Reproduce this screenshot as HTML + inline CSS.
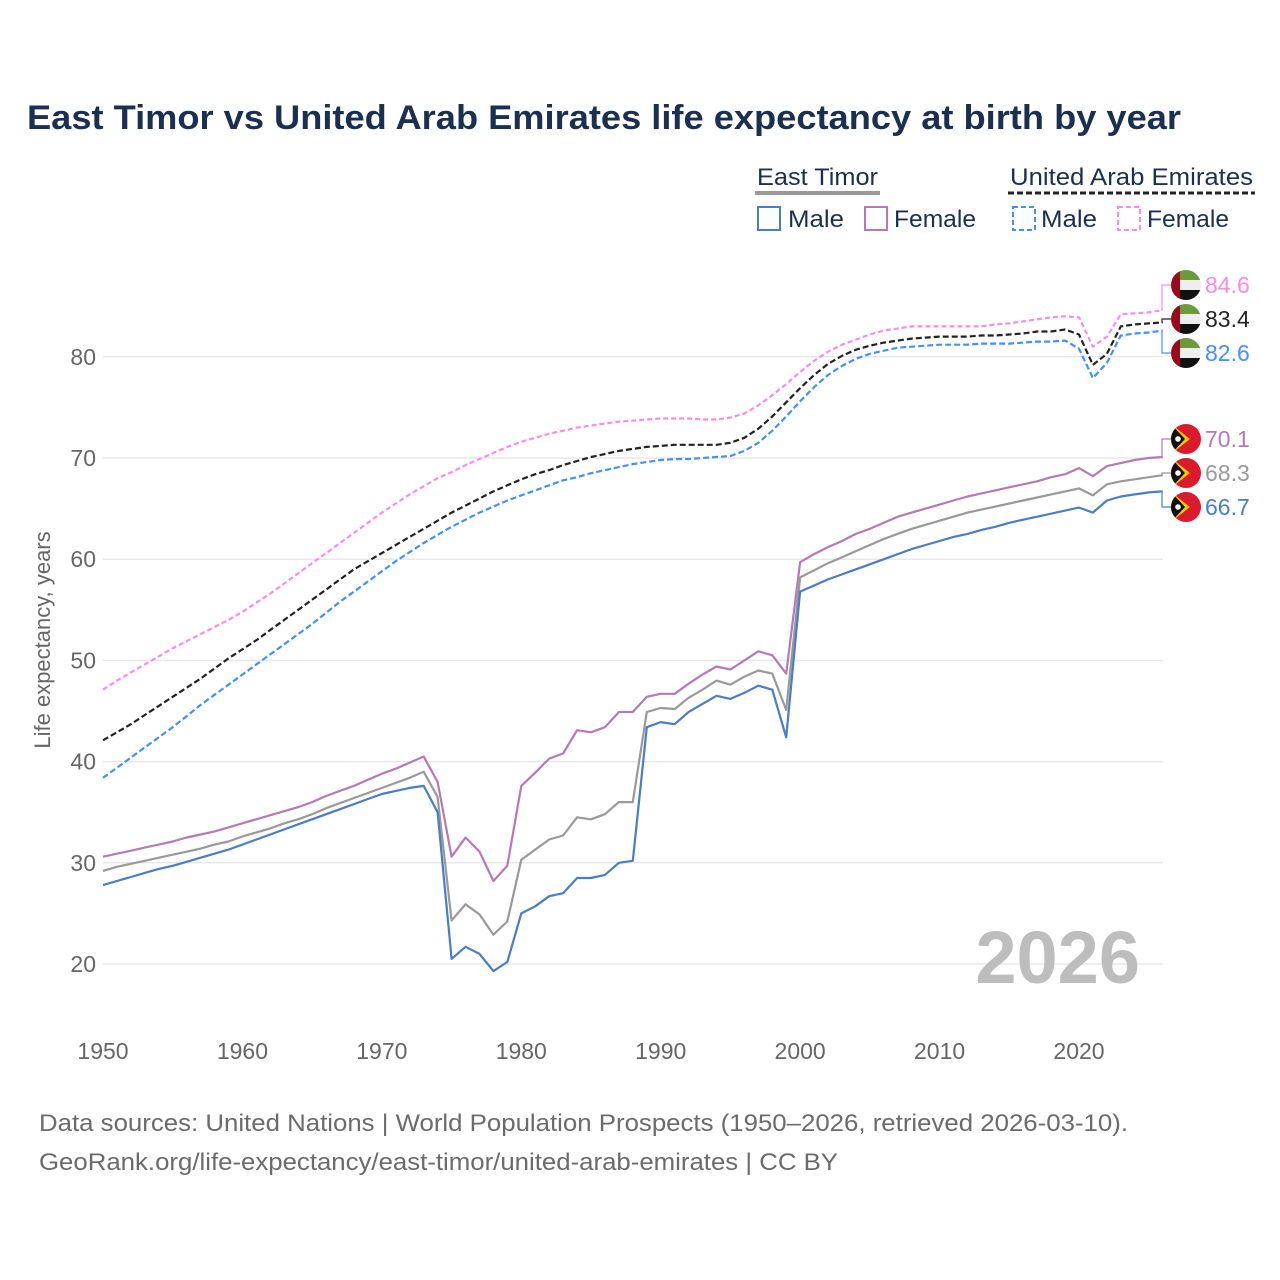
<!DOCTYPE html>
<html><head><meta charset="utf-8"><style>
body{margin:0;background:#fff}
svg{display:block;font-family:"Liberation Sans",sans-serif}
</style></head><body>
<svg id="chart" width="1280" height="1280" viewBox="0 0 1280 1280">
<text x="27" y="129" font-size="34" font-weight="bold" fill="#1b3050" textLength="1154" lengthAdjust="spacingAndGlyphs">East Timor vs United Arab Emirates life expectancy at birth by year</text>
<g font-size="24" fill="#1b3050">
<text x="757" y="185" textLength="121" lengthAdjust="spacingAndGlyphs">East Timor</text>
<line x1="755" y1="193" x2="880" y2="193" stroke="#999" stroke-width="4"/>
<text x="1010" y="185" textLength="243" lengthAdjust="spacingAndGlyphs">United Arab Emirates</text>
<line x1="1008" y1="193" x2="1255" y2="193" stroke="#222" stroke-width="3" stroke-dasharray="6,3"/>
<g><rect x="758" y="207" width="22" height="23" fill="none" stroke="#4a7cc9" stroke-width="2"/><text x="788" y="227" textLength="56" lengthAdjust="spacingAndGlyphs">Male</text></g>
<g><rect x="865" y="207" width="22" height="23" fill="none" stroke="#b57ab5" stroke-width="2"/><text x="894" y="227" textLength="82" lengthAdjust="spacingAndGlyphs">Female</text></g>
<g><rect x="1013" y="207" width="22" height="23" fill="none" stroke="#4190ff" stroke-width="2" stroke-dasharray="5,3"/><text x="1041" y="227" textLength="56" lengthAdjust="spacingAndGlyphs">Male</text></g>
<g><rect x="1118" y="207" width="22" height="23" fill="none" stroke="#ff88ee" stroke-width="2" stroke-dasharray="5,3"/><text x="1147" y="227" textLength="82" lengthAdjust="spacingAndGlyphs">Female</text></g>
</g>
<g id="grid"></g>
<g id="axes"></g>
<text x="1140" y="983" font-size="74" font-weight="bold" fill="#bdbdbd" text-anchor="end">2026</text>
<g id="series"></g>
<g id="labels"></g>
<text transform="translate(50,640) rotate(-90)" font-size="22" fill="#666" text-anchor="middle">Life expectancy, years</text>
<text x="39" y="1131" font-size="24" fill="#6b6b6b" textLength="1089" lengthAdjust="spacingAndGlyphs">Data sources: United Nations | World Population Prospects (1950–2026, retrieved 2026-03-10).</text>
<text x="39" y="1170" font-size="24" fill="#6b6b6b" textLength="799" lengthAdjust="spacingAndGlyphs">GeoRank.org/life-expectancy/east-timor/united-arab-emirates | CC BY</text>
</svg>
<script>
const startYear = 1950;
const yTicks = [20,30,40,50,60,70,80];
const xTicks = [1950,1960,1970,1980,1990,2000,2010,2020];
const etMale = [27.8,28.2,28.6,29.0,29.4,29.7,30.1,30.5,30.9,31.3,31.8,32.3,32.8,33.3,33.8,34.3,34.8,35.3,35.8,36.3,36.8,37.1,37.4,37.6,
35.0,20.5,21.7,21.0,19.3,20.2,25.0,25.7,26.7,27.0,28.5,28.5,28.8,30.0,30.2,43.4,43.9,43.7,44.9,45.7,46.5,46.2,46.8,47.5,47.1,42.4,
56.8,57.4,58.0,58.5,59.0,59.5,60.0,60.5,61.0,61.4,61.8,62.2,62.5,62.9,63.2,63.6,63.9,64.2,64.5,64.8,65.1,64.6,65.8,66.2,66.4,66.6,66.7];
const etFemale = [30.6,30.9,31.2,31.5,31.8,32.1,32.5,32.8,33.1,33.5,33.9,34.3,34.7,35.1,35.5,36.0,36.6,37.1,37.6,38.2,38.8,39.3,39.9,40.5,
38.0,30.6,32.5,31.1,28.2,29.7,37.6,38.9,40.3,40.8,43.1,42.9,43.4,44.9,44.9,46.4,46.7,46.7,47.7,48.6,49.4,49.1,50.0,50.9,50.5,48.7,
59.7,60.5,61.2,61.8,62.5,63.0,63.6,64.2,64.6,65.0,65.4,65.8,66.2,66.5,66.8,67.1,67.4,67.7,68.1,68.4,69.0,68.2,69.2,69.5,69.8,70.0,70.1];
const etTotal = [29.2,29.6,29.9,30.2,30.5,30.8,31.1,31.4,31.8,32.1,32.6,33.0,33.4,33.9,34.3,34.8,35.4,35.9,36.4,36.9,37.4,37.9,38.4,39.0,
36.5,24.3,25.9,24.9,22.9,24.2,30.3,31.3,32.3,32.7,34.5,34.3,34.8,36.0,36.0,44.9,45.3,45.2,46.3,47.1,48.0,47.6,48.4,49.0,48.7,45.1,
58.2,58.9,59.6,60.2,60.8,61.4,62.0,62.5,63.0,63.4,63.8,64.2,64.6,64.9,65.2,65.5,65.8,66.1,66.4,66.7,67.0,66.3,67.4,67.7,67.9,68.1,68.3];
const uaeFemale = [47.1,48.0,48.8,49.6,50.4,51.2,51.9,52.6,53.3,54.0,54.8,
55.7,56.6,57.6,58.6,59.6,60.6,61.6,62.6,63.6,64.6,
65.5,66.4,67.2,68.0,68.6,69.3,69.9,70.5,71.1,71.6,
72.0,72.4,72.7,73.0,73.2,73.4,73.6,73.7,73.8,73.9,
73.9,73.9,73.8,73.8,74.0,74.4,75.2,76.2,77.3,78.5,
79.6,80.5,81.2,81.7,82.2,82.6,82.8,83.0,83.0,83.0,
83.0,83.0,83.0,83.2,83.3,83.5,83.7,83.9,84.0,83.9,
81.0,82.0,84.2,84.3,84.4,84.6];
const uaeTotal = [42.1,42.9,43.7,44.6,45.5,46.4,47.3,48.2,49.2,50.2,51.1,
52.0,53.0,54.0,55.0,56.0,57.0,58.0,59.0,59.8,60.6,
61.4,62.2,63.0,63.8,64.6,65.3,66.0,66.7,67.3,67.9,
68.4,68.8,69.3,69.7,70.1,70.4,70.7,70.9,71.1,71.2,
71.3,71.3,71.3,71.3,71.5,72.0,72.9,74.1,75.5,76.9,
78.2,79.3,80.1,80.7,81.1,81.4,81.6,81.8,81.9,82.0,
82.0,82.0,82.1,82.1,82.2,82.3,82.5,82.5,82.7,82.2,
79.2,80.3,83.0,83.2,83.3,83.4];
const uaeMale = [38.4,39.4,40.4,41.4,42.4,43.4,44.5,45.6,46.6,47.6,48.6,
49.6,50.6,51.6,52.6,53.6,54.7,55.8,56.8,57.8,58.8,
59.8,60.7,61.6,62.4,63.2,63.9,64.6,65.2,65.8,66.3,
66.8,67.3,67.8,68.1,68.5,68.8,69.1,69.4,69.6,69.8,
69.9,69.9,70.0,70.1,70.2,70.7,71.5,72.7,74.1,75.6,
77.0,78.2,79.1,79.8,80.3,80.6,80.9,81.0,81.1,81.2,
81.2,81.2,81.3,81.3,81.3,81.4,81.5,81.5,81.6,80.8,
77.9,79.4,82.1,82.3,82.4,82.6];

const NS = "http://www.w3.org/2000/svg";
const X0 = 103, PXY = (1079-103)/70, Y20 = 964, PXV = 10.12;
const xs = yr => X0 + (yr - 1950) * PXY;
const ys = v => Y20 - (v - 20) * PXV;
function mk(tag, attrs, parent){ const e = document.createElementNS(NS, tag); for (const k in attrs) e.setAttribute(k, attrs[k]); parent.appendChild(e); return e; }
const grid = document.getElementById('grid'), axes = document.getElementById('axes');
yTicks.forEach(t => {
  const l = mk('line', {x1: X0, x2: 1163, y1: ys(t), y2: ys(t), stroke: '#e8e8e8', 'stroke-width': 1.5}, grid);
  
  
  const tx = mk('text', {x: 96, y: ys(t) + 8, 'font-size': 23, fill: '#666', 'text-anchor': 'end'}, axes);
  tx.textContent = t;
  
  
});
xTicks.forEach(t => {
  const tx = mk('text', {x: xs(t), y: 1059, 'font-size': 23, fill: '#666', 'text-anchor': 'middle'}, axes);
  tx.textContent = t;
  
  
});
const series = document.getElementById('series');
const defs = [
  [uaeFemale, '#ff88ee', '5,3', 'line-uae-female'],
  [uaeTotal, '#222', '6,3', 'line-uae-total'],
  [uaeMale, '#4190ff', '6,3', 'line-uae-male'],
  [etFemale, '#b57ab5', '', 'line-et-female'],
  [etTotal, '#999', '', 'line-et-total'],
  [etMale, '#4a7cc9', '', 'line-et-male']
];
defs.forEach(([arr, col, dash, name]) => {
  const d = arr.map((v, i) => (i ? 'L' : 'M') + xs(startYear + i).toFixed(1) + ',' + ys(v).toFixed(1)).join('');
  const p = mk('path', {d: d, fill: 'none', stroke: col, 'stroke-width': 2.2, 'stroke-linejoin': 'round'}, series);
  if (dash) p.setAttribute('stroke-dasharray', dash);
  
  
});
const labels = document.getElementById('labels');
const lab = [
  [uaeFemale, '#ff88ee', 285, 'uae', 'label-uae-female'],
  [uaeTotal, '#222', 319, 'uae', 'label-uae-total'],
  [uaeMale, '#4190ff', 353, 'uae', 'label-uae-male'],
  [etFemale, '#b57ab5', 439, 'et', 'label-et-female'],
  [etTotal, '#999', 473, 'et', 'label-et-total'],
  [etMale, '#4a7cc9', 507, 'et', 'label-et-male']
];
lab.forEach(([arr, col, ly, flag, name]) => {
  const v = arr[arr.length - 1];
  const ey = ys(v), ex = xs(startYear + arr.length - 1);
  mk('path', {d: `M${ex},${ey}L1162,${ey}L1162,${ly}L1172,${ly}`, fill: 'none', stroke: col, 'stroke-width': 1.2}, labels);
  const g = mk('g', {}, labels);
  
  
  const cx = 1186, cy = ly, r = 15;
  const cid = 'c' + name;
  const cp = mk('clipPath', {id: cid}, g);
  mk('circle', {cx: cx, cy: cy, r: r}, cp);
  const gg = mk('g', {'clip-path': `url(#${cid})`}, g);
  if (flag === 'uae') {
    mk('rect', {x: cx - r, y: cy - r, width: 2 * r, height: 2 * r / 3, fill: '#6a9a3a'}, gg);
    mk('rect', {x: cx - r, y: cy - r / 3, width: 2 * r, height: 2 * r / 3, fill: '#eee'}, gg);
    mk('rect', {x: cx - r, y: cy + r / 3, width: 2 * r, height: 2 * r / 3, fill: '#111'}, gg);
    mk('rect', {x: cx - r, y: cy - r, width: 9, height: 2 * r, fill: '#9b0a1a'}, gg);
  } else {
    mk('rect', {x: cx - r, y: cy - r, width: 2 * r, height: 2 * r, fill: '#dc1a2e'}, gg);
    mk('path', {d: `M${cx - r},${cy - r}L${cx + 4},${cy}L${cx - r},${cy + r}Z`, fill: '#f5c400'}, gg);
    mk('path', {d: `M${cx - r},${cy - r}L${cx - 1},${cy}L${cx - r},${cy + r}Z`, fill: '#111'}, gg);
    mk('circle', {cx: cx - 8, cy: cy, r: 2.8, fill: '#fff'}, gg);
  }
  const t = mk('text', {x: 1205, y: ly + 8, 'font-size': 23, fill: col}, labels);
  t.textContent = v.toFixed(1);
  
  
});
</script>
</body></html>
